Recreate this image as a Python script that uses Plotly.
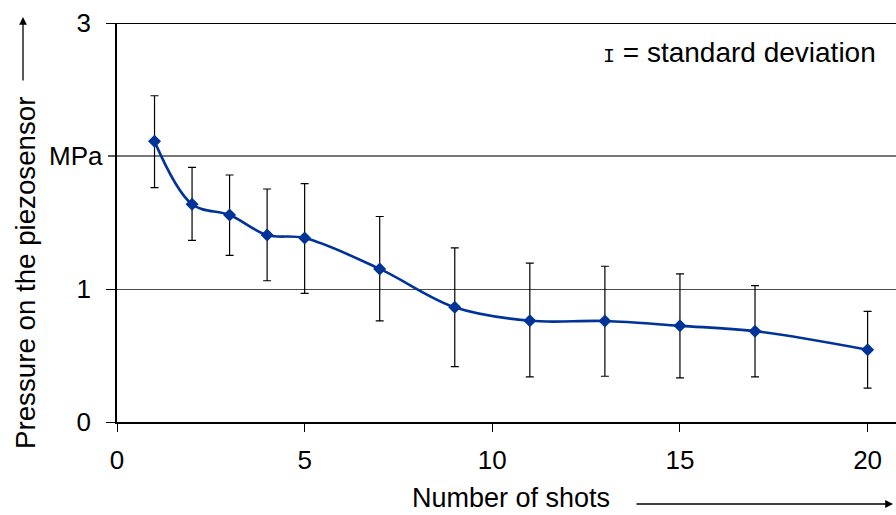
import plotly.graph_objects as go

shots = [1, 2, 3, 4, 5, 7, 9, 11, 13, 15, 17, 20]
pressure = [2.11, 1.637, 1.556, 1.406, 1.383, 1.151, 0.862, 0.761, 0.759, 0.723, 0.683, 0.543]
upper = [2.453, 1.915, 1.857, 1.752, 1.792, 1.545, 1.309, 1.194, 1.171, 1.113, 1.025, 0.832]
lower = [1.762, 1.366, 1.253, 1.062, 0.967, 0.761, 0.417, 0.339, 0.344, 0.332, 0.339, 0.254]

err_plus = [u - p for u, p in zip(upper, pressure)]
err_minus = [p - l for p, l in zip(pressure, lower)]

y_tickvals = [0, 1, 3]
y_ticktext = ["0", "1", "3"]
x_tickvals = [0, 5, 10, 15, 20]

FONT = "Liberation Sans, Arial, sans-serif"
FS = 26
W, H = 896, 515
L, R, T, B = 117, 0, 23, 93
pw, ph = W - L - R, H - T - B

def px_x(p):
    return (p - L) / pw

def px_y(p):
    return (H - B - p) / ph

fig = go.Figure()
fig.add_trace(go.Scatter(
    x=shots, y=pressure, mode="lines+markers",
    line=dict(color="#003399", width=2.6, shape="spline", smoothing=1.0),
    marker=dict(symbol="diamond", size=10, color="#003399"),
    error_y=dict(type="data", symmetric=False, array=err_plus, arrayminus=err_minus,
                 color="black", thickness=1.2, width=4),
    showlegend=False,
))

fig.update_layout(
    width=W, height=H,
    margin=dict(l=L, r=R, t=T, b=B),
    paper_bgcolor="white", plot_bgcolor="white",
    font=dict(family=FONT, size=FS, color="black"),
    xaxis=dict(range=[0, pw / 37.53], tickvals=x_tickvals, ticks="outside", ticklen=8,
               tickcolor="black", tickwidth=1.3, showline=True, linecolor="black", linewidth=1.6,
               showgrid=False, zeroline=False, ticklabelstandoff=6,
               tickfont=dict(family=FONT, size=FS)),
    yaxis=dict(range=[0, 3], tickvals=y_tickvals, ticktext=y_ticktext, ticks="outside", ticklen=9,
               tickcolor="black", tickwidth=1.3, showline=True, linecolor="black", linewidth=1.6,
               showgrid=True, gridcolor="#4a4a4a", gridwidth=1.3, zeroline=False,
               ticklabelstandoff=10, tickfont=dict(family=FONT, size=FS)),
)

# gridline at 2 and top line at 3
fig.add_shape(type="line", xref="paper", yref="y", x0=0, x1=1, y0=2, y1=2,
              line=dict(color="#4a4a4a", width=1.3), layer="below")
fig.add_shape(type="line", xref="paper", yref="y", x0=0, x1=1, y0=3, y1=3,
              line=dict(color="black", width=1.8))
fig.add_shape(type="line", xref="paper", yref="y", x0=-9 / pw, x1=0, y0=2, y1=2,
              line=dict(color="black", width=1.3))

# MPa label at y=2
fig.add_annotation(x=px_x(105), y=2, xref="paper", yref="y", text="MPa", showarrow=False,
                   xanchor="right", yanchor="middle", font=dict(family=FONT, size=FS))

# axis titles
fig.add_annotation(x=px_x(25), y=px_y(273), xref="paper", yref="paper",
                   text="Pressure on the piezosensor", textangle=-90, showarrow=False,
                   xanchor="center", yanchor="middle", font=dict(family=FONT, size=27.7))
fig.add_annotation(x=px_x(23), y=px_y(17), xref="paper", yref="paper", text="",
                   showarrow=True, ax=0, ay=65, arrowhead=2, arrowsize=1.2, arrowwidth=1.3,
                   arrowcolor="black")
fig.add_annotation(x=px_x(511), y=px_y(515), xref="paper", yref="paper",
                   text="Number of shots", showarrow=False,
                   xanchor="center", yanchor="bottom", font=dict(family=FONT, size=27))
fig.add_annotation(x=px_x(893), y=px_y(504), xref="paper", yref="paper", text="",
                   showarrow=True, ax=-258, ay=0, arrowhead=2, arrowsize=1.2, arrowwidth=1.3,
                   arrowcolor="black")

# legend note
fig.add_annotation(x=px_x(878), y=px_y(52), xref="paper", yref="paper",
                   text="<span style='font-family:Liberation Mono;font-size:20px'>I</span> = standard deviation",
                   showarrow=False, xanchor="right", yanchor="middle", font=dict(family=FONT, size=28))

fig.write_html("out.html")
